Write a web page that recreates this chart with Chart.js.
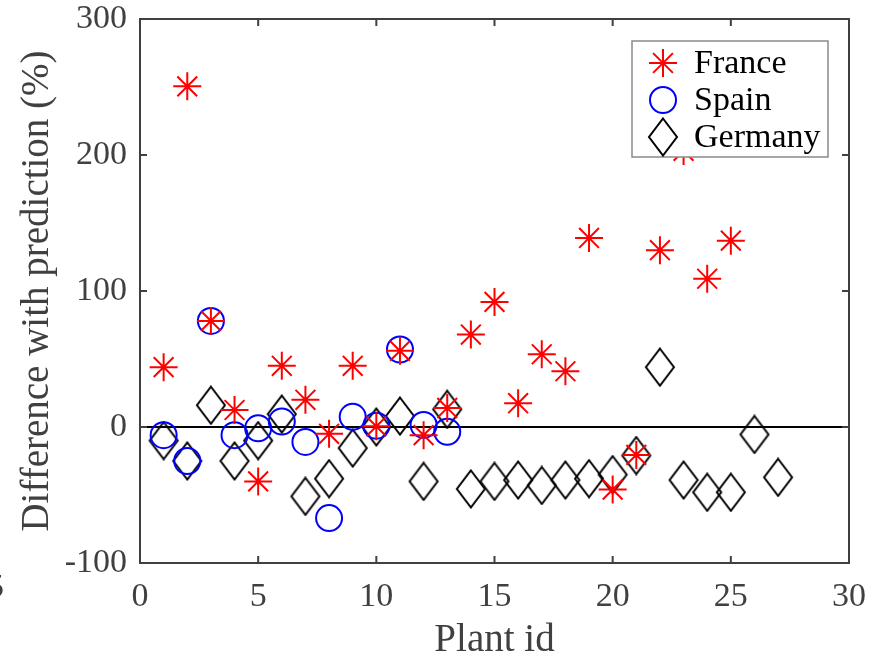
<!DOCTYPE html>
<html>
<head>
<meta charset="utf-8">
<script src="https://cdn.jsdelivr.net/npm/chart.js@4.4.1/dist/chart.umd.min.js"></script>
<style>
  body { margin: 0; background: #fff; }
  canvas { display: block; }
</style>
</head>
<body>
<canvas id="plantChart" width="871" height="655"></canvas>
<script>
// plant ids and % difference with prediction
const franceIds  = [1,2,3,4,5,6,7,8,9,10,11,12,13,14,15,16,17,18,19,20,21,22,23,24,25];
const franceVals = [44,250.5,78,12.5,-40,45,20,-5,45,0.5,56,-6,14,68,92,17.5,53.5,41,139,-46,-20.5,130,203,109,137];

const spainIds  = [1,2,3,4,5,6,7,8,9,10,11,12,13];
const spainVals = [-6,-25,78,-6,-1,4,-11,-67,7.5,1,57,1.5,-3.5];

const germanyIds  = [1,2,3,4,5,6,7,8,9,10,11,12,13,14,15,16,17,18,19,20,21,22,23,24,25,26,27];
const germanyVals = [-10,-25,16,-25,-10,9.5,-51,-38,-15.5,0,8,-40,13,-45.5,-40,-39,-43,-39,-38,-35,-21,44,-39,-48,-48,-5.5,-37];

const xTicks = [0,5,10,15,20,25,30];
const yTicks = [-100,0,100,200,300];

const toPoints = (ids, vals) => ids.map((id, i) => ({ x: id, y: vals[i] }));

// matlab style diamond (taller than wide)
const diamond = document.createElement('canvas');
diamond.width = 32; diamond.height = 40;
(function () {
  const c = diamond.getContext('2d');
  c.strokeStyle = '#000';
  c.lineWidth = 2;
  c.beginPath();
  c.moveTo(16, 1.5); c.lineTo(30, 20); c.lineTo(16, 38.5); c.lineTo(2, 20);
  c.closePath();
  c.stroke();
})();

const axisColor = '#404040';
const font = "'Liberation Serif', 'Times New Roman', serif";

// box, inward ticks, zero line, legend
const boxPlugin = {
  id: 'box',
  beforeDatasetsDraw(chart) {
    const { ctx, chartArea: a, scales } = chart;
    const y0 = scales.y.getPixelForValue(0);
    ctx.save();
    ctx.strokeStyle = '#000';
    ctx.lineWidth = 2;
    ctx.beginPath();
    ctx.moveTo(a.left, y0); ctx.lineTo(a.right, y0);
    ctx.stroke();
    ctx.restore();
  },
  afterDatasetsDraw(chart) {
    const { ctx, chartArea: a, scales } = chart;
    ctx.save();
    ctx.strokeStyle = axisColor;
    ctx.lineWidth = 2;
    ctx.strokeRect(a.left, a.top, a.right - a.left, a.bottom - a.top);
    ctx.beginPath();
    xTicks.forEach(v => {
      const x = scales.x.getPixelForValue(v);
      ctx.moveTo(x, a.bottom); ctx.lineTo(x, a.bottom - 7);
      ctx.moveTo(x, a.top); ctx.lineTo(x, a.top + 7);
    });
    yTicks.forEach(v => {
      const y = scales.y.getPixelForValue(v);
      ctx.moveTo(a.left, y); ctx.lineTo(a.left + 7, y);
      ctx.moveTo(a.right, y); ctx.lineTo(a.right - 7, y);
    });
    ctx.stroke();
    ctx.restore();
  },
  afterDraw(chart) {
    const { ctx, chartArea: a } = chart;
    ctx.save();
    // stray label cut off at the left edge
    ctx.fillStyle = axisColor;
    ctx.font = '34px ' + font;
    ctx.textAlign = 'right';
    ctx.textBaseline = 'middle';
    ctx.fillText('5', 4, 588);

    // legend box inside the axes
    const lx = a.right - 217, ly = a.top + 22, lw = 196, lh = 116;
    ctx.fillStyle = '#fff';
    ctx.fillRect(lx, ly, lw, lh);
    ctx.strokeStyle = '#8a8a8a';
    ctx.lineWidth = 1.5;
    ctx.strokeRect(lx, ly, lw, lh);
    ctx.textAlign = 'left';
    chart.data.datasets.forEach((ds, i) => {
      const cy = ly + 22 + i * 37;
      ctx.strokeStyle = ds.borderColor;
      ctx.fillStyle = 'rgba(0,0,0,0)';
      ctx.lineWidth = ds.borderWidth;
      Chart.helpers.drawPoint(ctx, {
        pointStyle: ds.pointStyle,
        radius: ds.pointRadius,
        borderWidth: ds.borderWidth,
        rotation: 0
      }, lx + 31, cy);
      ctx.fillStyle = '#000';
      ctx.fillText(ds.label, lx + 62, cy + 1);
    });
    ctx.restore();
  }
};

new Chart(document.getElementById('plantChart'), {
  type: 'scatter',
  data: {
    datasets: [{
      label: 'France',
      data: toPoints(franceIds, franceVals),
      pointStyle: 'star',
      pointRadius: 14,
      borderColor: '#ff0000',
      backgroundColor: 'rgba(0,0,0,0)',
      borderWidth: 2
    }, {
      label: 'Spain',
      data: toPoints(spainIds, spainVals),
      pointStyle: 'circle',
      pointRadius: 13,
      borderColor: '#0000ff',
      backgroundColor: 'rgba(0,0,0,0)',
      borderWidth: 2
    }, {
      label: 'Germany',
      data: toPoints(germanyIds, germanyVals),
      pointStyle: diamond,
      pointRadius: 14,
      borderColor: '#000',
      backgroundColor: 'rgba(0,0,0,0)',
      borderWidth: 2
    }]
  },
  options: {
    responsive: false,
    animation: false,
    layout: { padding: { top: 19, right: 22, left: 0, bottom: 0 } },
    plugins: {
      legend: { display: false },
      tooltip: { enabled: false }
    },
    scales: {
      x: {
        type: 'linear',
        min: 0, max: 30,
        afterBuildTicks: s => { s.ticks = xTicks.map(v => ({ value: v })); },
        afterFit: s => { s.height = 92; s.paddingLeft = 0; s.paddingRight = 0; },
        grid: { display: false, drawTicks: false },
        border: { display: false },
        ticks: { color: axisColor, font: { family: font, size: 34 }, padding: 14, maxRotation: 0 },
        title: { display: true, text: 'Plant id', color: axisColor, font: { family: font, size: 39 }, padding: { top: 0, bottom: -9 } }
      },
      y: {
        min: -100, max: 300,
        afterBuildTicks: s => { s.ticks = yTicks.map(v => ({ value: v })); },
        afterFit: s => { s.width = 140; s.paddingTop = 0; s.paddingBottom = 0; },
        grid: { display: false, drawTicks: false },
        border: { display: false },
        ticks: { color: axisColor, font: { family: font, size: 34 }, padding: 13 },
        title: { display: true, text: 'Difference with prediction (%)', color: axisColor, font: { family: font, size: 39 }, padding: { top: 14, bottom: 0 } }
      }
    }
  },
  plugins: [boxPlugin]
});
</script>
</body>
</html>
